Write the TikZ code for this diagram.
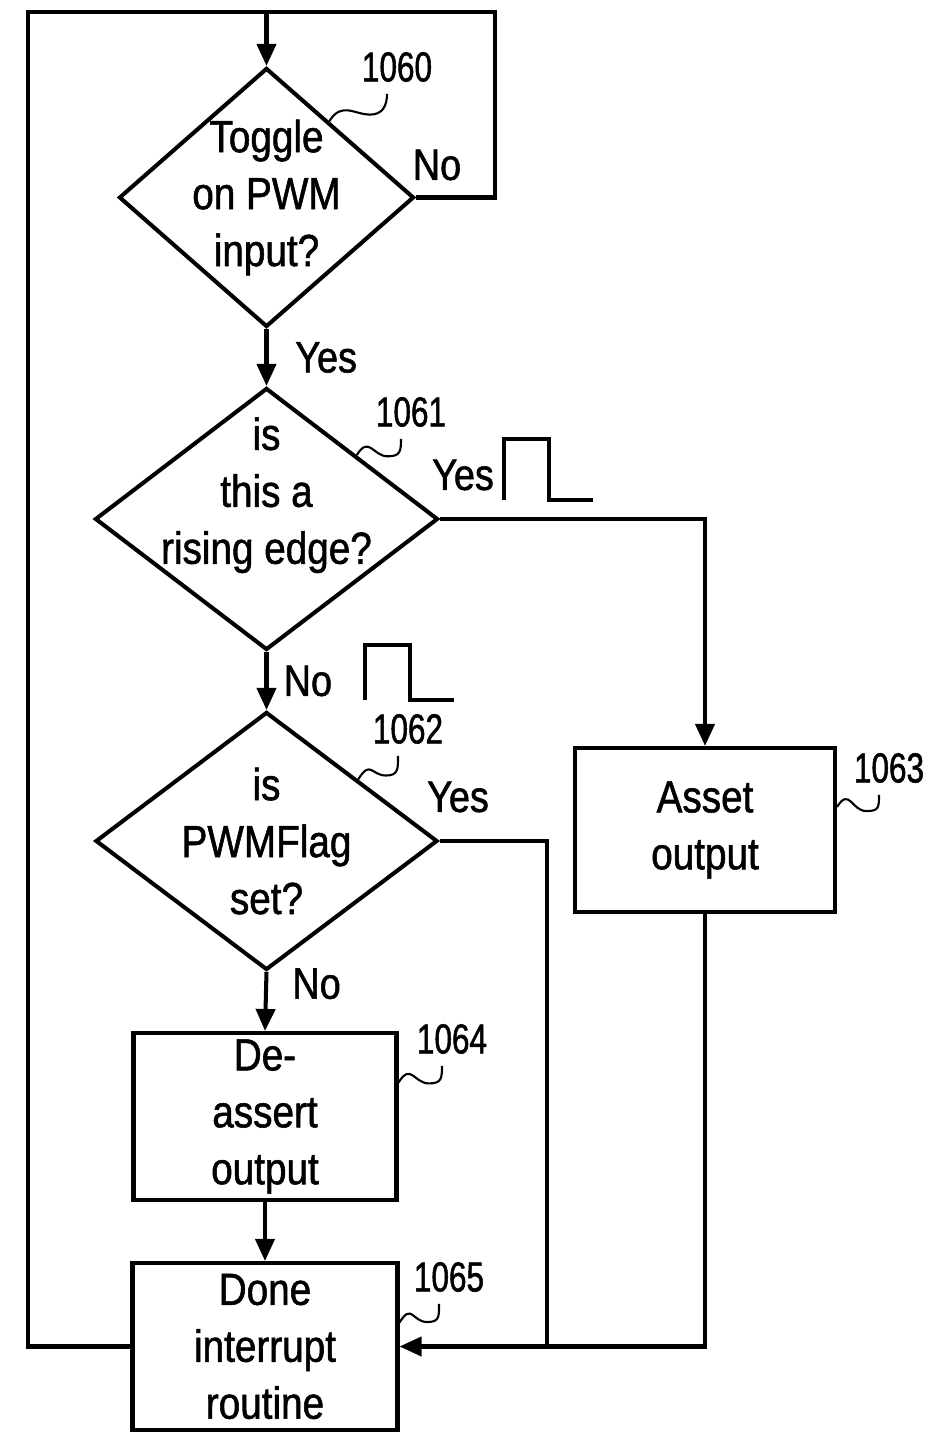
\documentclass[tikz,border=0pt]{standalone}
\usepackage{fontspec}
\setmainfont{Liberation Sans}
\newfontfamily\narrowfont{Liberation Sans}[FakeStretch=0.86,FakeBold=1.2]
\newfontfamily\numfont{Liberation Sans}[FakeStretch=0.75,FakeBold=1.2]
\usepackage{tikz}
\usetikzlibrary{arrows.meta,positioning,shapes.geometric,calc}
\newcommand{\bigtxt}{\narrowfont\fontsize{25.6}{32.4}\selectfont}
\newcommand{\tagtxt}{\narrowfont\fontsize{25}{28}\selectfont}
\newcommand{\numtxt}{\numfont\fontsize{23.9}{26}\selectfont}
\newcommand{\refmark}[2]{%
  \draw[refline] (#1) .. controls +(0.25,0.4) and +(-0.3,0) .. ($(#1)!0.7!(#2)+(0,-0.25)$)
    .. controls +(0.25,0) and +(0,-0.25) .. (#2);}
\newcommand{\pulse}[2]{%
  \draw[line] (#1) -- ++(0,#2) -- ++(0.9,0) -- ++(0,-#2) -- ++(0.88,0);}

\begin{document}
\begin{tikzpicture}[
    line/.style={line width=2.3pt},
    flow/.style={line,-{Triangle[length=0.44cm,width=0.38cm]}},
    refline/.style={line width=1.2pt},
    decision/.style={diamond,draw,line width=2.3pt,inner sep=-1cm,align=center,font=\bigtxt},
    process/.style={rectangle,draw,line width=2.3pt,inner sep=0pt,align=center,font=\bigtxt},
    tag/.style={font=\tagtxt,inner sep=1pt},
    refnum/.style={font=\numtxt,inner sep=1pt}]
  \useasboundingbox (0,0) rectangle (18.66,28.66);

  \node[decision,minimum width=5.9cm,minimum height=5.18cm]
    (toggle) at (5.33,24.71) {Toggle\\on PWM\\input?};
  \node[decision,minimum width=6.86cm,minimum height=5.24cm]
    (rising) at (5.33,18.28) {is\\this a\\rising edge?\\\mbox{}};
  \node[decision,minimum width=6.84cm,minimum height=5.16cm]
    (flagset) at (5.33,11.84) {is\\PWMFlag\\set?};
  \node[process,minimum width=5.2cm,minimum height=3.28cm]
    (assert) at (14.10,12.06) {Asset\\output};
  \node[process,minimum width=5.26cm,minimum height=3.34cm]
    (deassert) at (5.30,6.33) {De-\\assert\\output};
  \node[process,minimum width=5.3cm,minimum height=3.34cm]
    (done) at (5.30,1.73) {Done\\interrupt\\routine};

  \coordinate (topleft) at (0.56,28.42);
  \coordinate (topright) at (9.9,28.42);
  \coordinate (yesbus) at (10.94,1.73);

  % loops back to the top
  \draw[line] (done.west) -| (topleft) -- (topright) |- (toggle.east);
  \draw[flow] (toggle.north |- topleft) -- (toggle.north);

  \draw[flow] (toggle.south) -- (rising.north)
    node[midway,right,tag,xshift=0.5cm]{Yes};
  \draw[flow] (rising.south) -- (flagset.north)
    node[midway,right,tag,xshift=0.27cm]{No};
  \draw[flow] (flagset.south) -- (deassert.north)
    node[pos=0.2,right,tag,xshift=0.45cm]{No};
  \draw[flow] (deassert.south) -- (deassert.south |- done.north);
  \draw[flow] (rising.east) -| (assert.north);
  \draw[line] (flagset.east) -| (yesbus);
  \draw[flow] (assert.south) |- (done.east);

  \node[tag] (no1) at (8.74,25.36) {No};
  \node[tag] (yes2) at (9.26,19.16) {Yes};
  \node[tag] (yes3) at (9.16,12.72) {Yes};

  % pulse sketches
  \pulse{10.08,18.66}{1.22}
  \pulse{7.30,14.66}{1.1}

  % reference numerals
  \node[refnum] (n1060) at (7.94,27.32) {1060};
  \node[refnum] (n1061) at (8.22,20.42) {1061};
  \node[refnum] (n1062) at (8.16,14.08) {1062};
  \node[refnum] (n1063) at (17.78,13.30) {1063};
  \node[refnum] (n1064) at (9.04,7.88) {1064};
  \node[refnum] (n1065) at (8.98,3.12) {1065};

  \coordinate (s1060) at ($(toggle.north)!0.42!(toggle.east)$);
  \coordinate (s1061) at ($(rising.north)!0.52!(rising.east)$);
  \coordinate (s1062) at ($(flagset.north)!0.53!(flagset.east)$);
  \coordinate (s1063) at ($(assert.east)+(0,0.46)$);
  \coordinate (s1064) at ($(deassert.east)+(0,0.68)$);
  \coordinate (s1065) at ($(done.east)+(0,0.48)$);
  \foreach \n in {1060,1061,1062,1063,1064,1065}{
    \coordinate (e\n) at ($(n\n.south)+(-0.2,-0.2)$);
    \refmark{s\n}{e\n}
  }
\end{tikzpicture}
\end{document}
